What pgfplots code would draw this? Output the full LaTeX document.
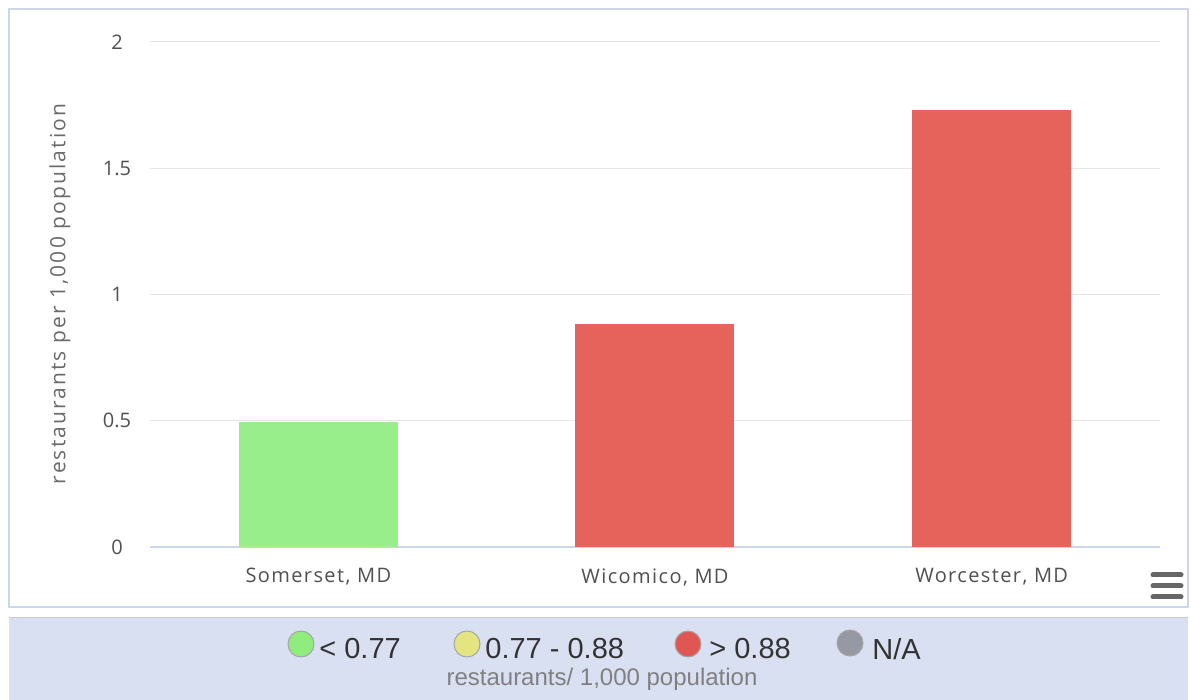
\documentclass[border=0pt]{standalone}
\usepackage{pgfplots}
\pgfplotsset{compat=1.18}
\usepackage{fontspec}
\setmainfont{Liberation Sans}
\newfontfamily\axisfont{Open Sans}
\newfontfamily\tickfont[LetterSpace=7]{Open Sans}
\newfontfamily\labelfont[LetterSpace=10]{Open Sans}

\definecolor{barGreen}{RGB}{152,238,138}
\definecolor{barRed}{RGB}{230,99,91}
\definecolor{frameBlue}{RGB}{204,214,235}
\definecolor{panelBlue}{RGB}{217,224,241}
\definecolor{gridGray}{RGB}{230,230,230}
\definecolor{tickText}{RGB}{80,80,80}
\definecolor{lgGreen}{RGB}{144,237,125}
\definecolor{lgYellow}{RGB}{228,228,128}
\definecolor{lgRed}{RGB}{224,86,82}
\definecolor{lgGray}{RGB}{150,153,163}

\begin{document}
\begin{tikzpicture}
% page in reference pixels: 1 px = 0.5 pt, y downwards
\begin{scope}[x=0.5pt,y=-0.5pt]
 \path[use as bounding box, fill=white] (0,0) rectangle (1191,700);
 \draw[frameBlue, line width=1pt] (9,9) rectangle (1188,607);
 \fill[panelBlue] (9,618) rectangle (1188,700);
 \draw[gray!40, line width=0.5pt] (9,618) -- (1188,618);
\end{scope}

\begin{axis}[
 at={(75pt,-273.5pt)}, anchor=south west,
 scale only axis, width=505pt, height=252.5pt,
 xmin=-0.5, xmax=2.5, ymin=0, ymax=2,
 xtick={0,1,2},
 xticklabels={{Somerset, MD},{Wicomico, MD},{Worcester, MD}},
 ytick={0,0.5,1,1.5,2},
 yticklabels={0,0.5,1,1.5,2},
 major tick length=0pt,
 axis lines*=left,
 y axis line style={draw=none},
 x axis line style={draw=frameBlue, line width=1pt, -},
 ymajorgrids,
 major grid style={draw=gridGray, line width=0.5pt},
 /pgf/number format/assume math mode=true,
 tick label style={font=\axisfont\fontsize{10}{12}\selectfont, text=tickText},
 xticklabel style={anchor=center, yshift=-15pt,
   font=\tickfont\fontsize{10}{12}\selectfont},
 yticklabel style={anchor=center, xshift=-16.5pt},
 clip=false,
]
\addplot[ybar, bar width=79.5pt, bar shift=0pt, fill=barGreen, draw=none]
 coordinates {(0,0.495)};
\addplot[ybar, bar width=79.5pt, bar shift=0pt, fill=barRed, draw=none]
 coordinates {(1,0.883)};
\addplot[ybar, bar width=79.5pt, bar shift=0pt, fill=barRed, draw=none]
 coordinates {(2,1.731)};
\end{axis}

\begin{scope}[x=0.5pt,y=-0.5pt]
 % y axis title
 \node[rotate=90, text=tickText!85, font=\labelfont\fontsize{10.5}{12}\selectfont]
  at (60,294) {restaurants per 1,000 population};
 % menu icon
 \foreach \yy in {575,586,597}
  \draw[black!60, line width=2.5pt, line cap=round] (1153,\yy) -- (1181,\yy);
 % legend
 \draw[fill=lgGreen, draw=black!35, line width=0.5pt] (301,644) circle (13);
 \draw[fill=lgYellow, draw=black!35, line width=0.5pt] (467,644) circle (13);
 \draw[fill=lgRed, draw=black!35, line width=0.5pt] (688,644) circle (13);
 \draw[fill=lgGray, draw=black!35, line width=0.5pt] (850,643) circle (13);
 \begin{scope}[every node/.style={anchor=west, inner sep=0pt, text=black!80,
   font=\fontsize{14.5}{16}\selectfont}]
  \node at (319,649) {< 0.77};
  \node at (485,649) {0.77 - 0.88};
  \node at (709,649) {> 0.88};
  \node at (872,649) {N/A};
 \end{scope}
 \node[text=black!50, font=\fontsize{12}{14}\selectfont] at (602,679)
  {restaurants/ 1,000 population};
\end{scope}
\end{tikzpicture}
\end{document}
